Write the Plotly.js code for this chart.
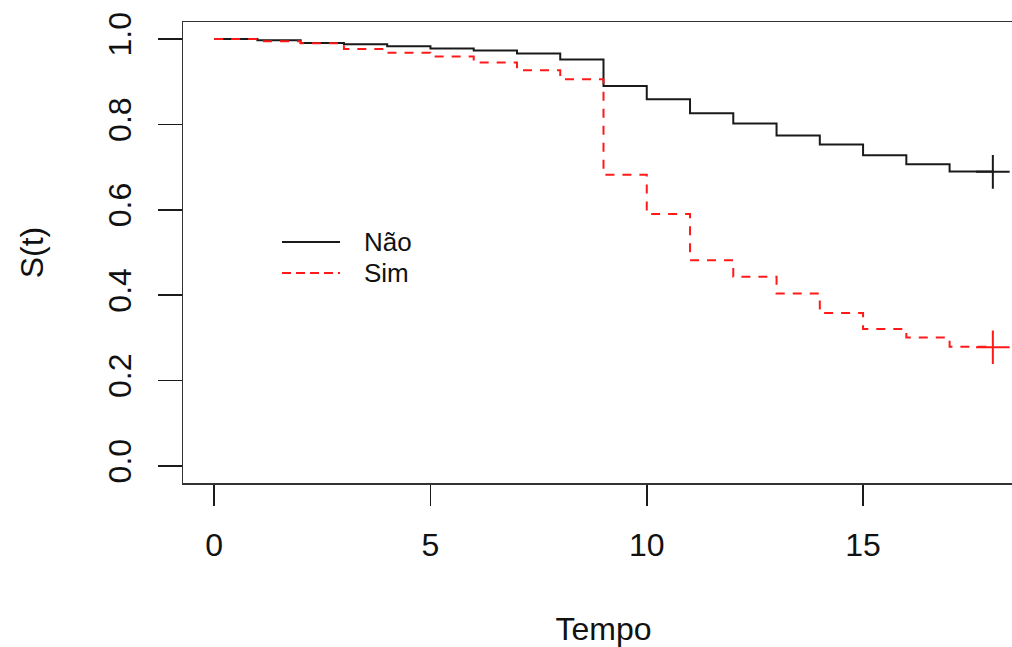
<!DOCTYPE html>
<html>
<head>
<meta charset="utf-8">
<script src="https://cdn.plot.ly/plotly-3.0.1.min.js"></script>
<style>
html, body { margin: 0; padding: 0; overflow: hidden; background: #fff; }
#chart { width: 1026px; height: 647px; }
</style>
</head>
<body>
<div id="chart"></div>
<script>
// Data (Kaplan-Meier curves)
const tempo = [0,1,2,3,4,5,6,7,8,9,10,11,12,13,14,15,16,17,18];
const survNao = [1.000,0.997,0.991,0.988,0.983,0.978,0.973,0.966,0.952,0.890,0.859,0.826,0.802,0.774,0.753,0.728,0.707,0.690,0.690];
const survSim = [1.000,0.995,0.990,0.977,0.968,0.959,0.945,0.927,0.906,0.682,0.590,0.482,0.443,0.404,0.358,0.321,0.301,0.279,0.279];
const censorTime = [18];
const censorNao = [0.689];
const censorSim = [0.278];
const seriesNames = ['Não', 'Sim'];
const xTicks = [0, 5, 10, 15];
const yTicks = [0, 0.2, 0.4, 0.6, 0.8, 1.0];
const yTickText = ['0.0', '0.2', '0.4', '0.6', '0.8', '1.0'];

const black = '#1a1a1a';
const red = '#ff1a1a';
const font = 'Liberation Sans, Arial, Helvetica, sans-serif';

const traces = [
  { x: tempo, y: survNao, mode: 'lines', line: { shape: 'hv', color: black, width: 2 }, name: seriesNames[0], showlegend: false, hoverinfo: 'skip' },
  { x: tempo, y: survSim, mode: 'lines', line: { shape: 'hv', color: red, width: 2, dash: '9px,8px' }, name: seriesNames[1], showlegend: false, hoverinfo: 'skip' },
  { x: censorTime, y: censorNao, mode: 'markers', marker: { symbol: 'cross-thin', size: 24, line: { color: black, width: 2 } }, showlegend: false, hoverinfo: 'skip' },
  { x: censorTime, y: censorSim, mode: 'markers', marker: { symbol: 'cross-thin', size: 24, line: { color: red, width: 2 } }, showlegend: false, hoverinfo: 'skip' }
];

// manual legend (R-style, no box)
const legX0 = 0.1177, legX1 = 0.1867, legTextX = 0.2128;
const legY = [0.5228, 0.4555];
const legColors = [black, red];
const legDash = ['solid', '9px,5px'];
const shapes = [];
const annotations = [];
seriesNames.forEach((nm, i) => {
  shapes.push({ type: 'line', xref: 'paper', yref: 'paper', x0: legX0, x1: legX1, y0: legY[i], y1: legY[i],
    line: { color: legColors[i], width: 2, dash: legDash[i] } });
  annotations.push({ xref: 'paper', yref: 'paper', x: legTextX, y: legY[i], xanchor: 'left', yanchor: 'middle',
    text: nm, showarrow: false, font: { family: font, size: 26, color: '#111' } });
});

const layout = {
  width: 1026, height: 647,
  margin: { l: 183, r: 2, t: 22, b: 164 },
  paper_bgcolor: '#fff', plot_bgcolor: '#fff',
  font: { family: font, color: '#111' },
  xaxis: {
    range: [-0.72, 18.72], tickvals: xTicks, ticktext: xTicks.map(String),
    ticks: 'outside', ticklen: 21, tickwidth: 1.5, tickcolor: black,
    showline: true, mirror: true, linecolor: '#333', linewidth: 1.5,
    showgrid: false, zeroline: false,
    tickfont: { family: font, size: 32, color: '#111' },
    ticklabelstandoff: 12,
    title: { text: 'Tempo', font: { family: font, size: 32, color: '#111' }, standoff: 56 }
  },
  yaxis: {
    range: [-0.04, 1.04], tickvals: yTicks, ticktext: yTickText, tickangle: -90,
    ticks: 'outside', ticklen: 24, tickwidth: 1.5, tickcolor: black,
    showline: true, mirror: true, linecolor: '#333', linewidth: 1.5,
    showgrid: false, zeroline: false,
    tickfont: { family: font, size: 32, color: '#111' },
    ticklabelstandoff: 14,
    title: { text: 'S(t)', font: { family: font, size: 32, color: '#111' }, standoff: 48 }
  },
  shapes: shapes,
  annotations: annotations
};

Plotly.newPlot('chart', traces, layout, { staticPlot: true, displayModeBar: false });
</script>
</body>
</html>
